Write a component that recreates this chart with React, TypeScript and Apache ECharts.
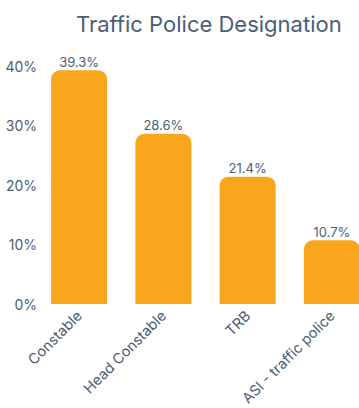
import React, { useEffect, useRef } from "react";
import * as echarts from "echarts";

const categories = ["Constable", "Head Constable", "TRB", "ASI - traffic police"];
const values = [39.3, 28.6, 21.4, 10.7];
const titleText = "Traffic Police Designation";

const textColor = "#4a5e76";
const barColor = "#F9A61C";

export default function App() {
  const ref = useRef<HTMLDivElement>(null);
  useEffect(() => {
    const chart = echarts.init(ref.current!, null, { renderer: "svg" });
    chart.setOption({
      animation: false,
      title: {
        text: titleText,
        left: 71,
        top: 8,
        textStyle: { fontFamily: "Inter", fontSize: 22, fontWeight: "normal", color: textColor },
      },
      grid: {
        left: 37,
        top: 66,
        width: 337,
        height: 238,
        containLabel: false,
        outerBoundsMode: "none",
      },
      xAxis: {
        type: "category",
        data: categories,
        axisLine: { show: false },
        axisTick: { show: false },
        axisLabel: {
          rotate: 45,
          interval: 0,
          margin: 9,
          fontFamily: "Inter",
          fontSize: 14.5,
          color: textColor,
        },
      },
      yAxis: {
        type: "value",
        min: 0,
        max: 40,
        interval: 10,
        splitLine: { show: false },
        axisLine: { show: false },
        axisTick: { show: false },
        axisLabel: {
          formatter: "{value}%",
          margin: 0,
          fontFamily: "Inter",
          fontSize: 14,
          color: textColor,
        },
      },
      series: [
        {
          type: "bar",
          data: values,
          barWidth: 56,
          itemStyle: { color: barColor, borderRadius: [9, 9, 0, 0] },
          label: {
            show: true,
            position: "top",
            distance: 2,
            formatter: (p: any) => p.value.toFixed(1) + "%",
            fontFamily: "Inter",
            fontSize: 13,
            color: textColor,
          },
        },
      ],
    });
    return () => chart.dispose();
  }, []);
  return (
    <div
      ref={ref}
      style={{ position: "fixed", left: 0, top: 0, width: 359, height: 408, background: "#fff" }}
    />
  );
}
